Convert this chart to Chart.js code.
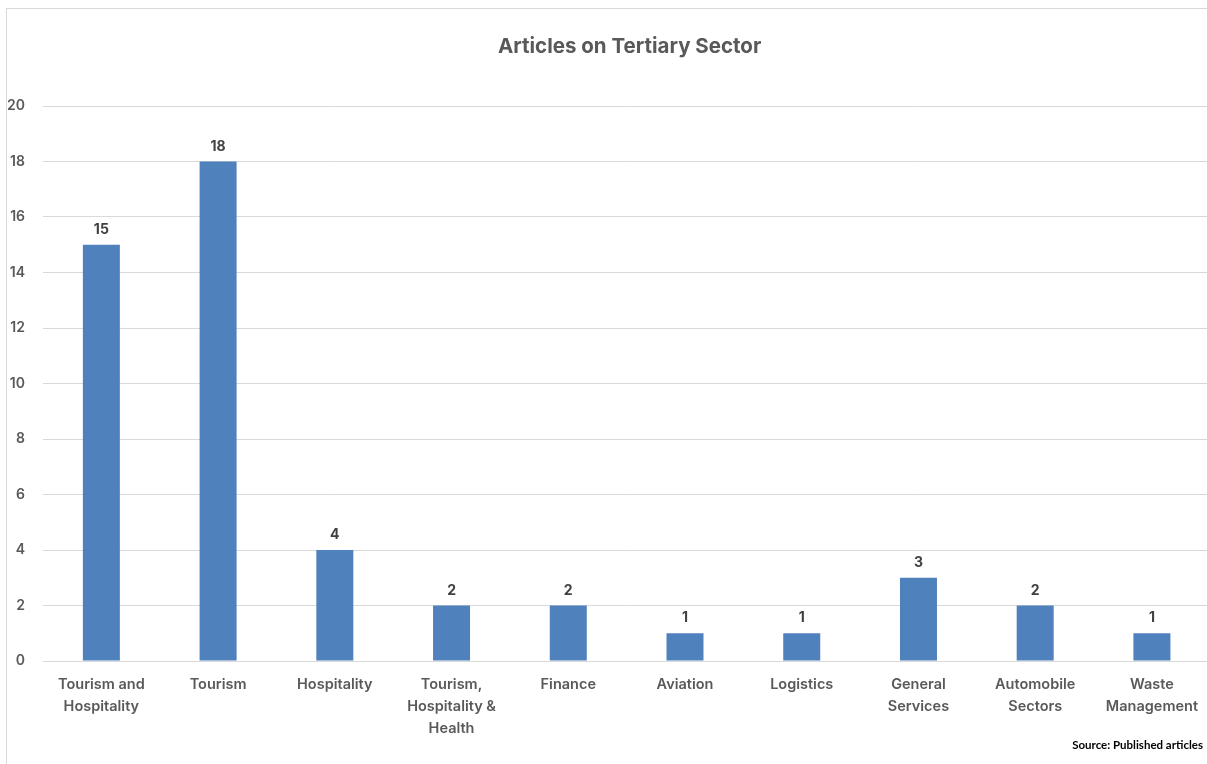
<!DOCTYPE html>
<html>
<head>
<meta charset="utf-8">
<script src="https://cdn.jsdelivr.net/npm/chart.js@4/dist/chart.umd.min.js"></script>
<style>
  html, body { margin: 0; padding: 0; background: #ffffff; overflow: hidden; width: 1207px; height: 764px; }
  #wrap { position: relative; width: 1207px; height: 764px; overflow: hidden; }
  #frame { position: absolute; left: 6px; top: 8px; width: 1300px; height: 800px; border-left: 1px solid #d9d9d9; border-top: 1px solid #d9d9d9; box-sizing: border-box; }
  canvas { position: absolute; left: 0; top: 0; }
  #source { position: absolute; right: 4px; top: 738px; font-family: Lato, "Open Sans", sans-serif; font-weight: bold; font-size: 11.5px; color: #000; }
</style>
</head>
<body>
<div id="wrap">
  <div id="frame"></div>
  <canvas id="c" width="1211" height="764"></canvas>
  <div id="source">Source: Published articles</div>
</div>
<script>
const chartTitle = "Articles on Tertiary Sector";
const categories = [
  ["Tourism and", "Hospitality"],
  "Tourism",
  "Hospitality",
  ["Tourism,", "Hospitality &", "Health"],
  "Finance",
  "Aviation",
  "Logistics",
  ["General", "Services"],
  ["Automobile", "Sectors"],
  ["Waste", "Management"]
];
const articleCounts = [15, 18, 4, 2, 2, 1, 1, 3, 2, 1];
const yTicks = [0, 2, 4, 6, 8, 10, 12, 14, 16, 18, 20];

const FONT = 'Inter, Lato, "Open Sans", sans-serif';

const valueLabels = {
  id: 'valueLabels',
  afterDatasetsDraw(chart) {
    const ctx = chart.ctx;
    const meta = chart.getDatasetMeta(0);
    ctx.save();
    ctx.font = '700 14px ' + FONT;
    ctx.fillStyle = '#404040';
    ctx.textAlign = 'center';
    ctx.textBaseline = 'middle';
    meta.data.forEach((bar, i) => {
      ctx.fillText(String(chart.data.datasets[0].data[i]), bar.x, bar.y - 15);
    });
    ctx.restore();
  }
};

// Title centred over the plot area (as in the reference)
const plotTitle = {
  id: 'plotTitle',
  afterDraw(chart) {
    const ctx = chart.ctx;
    const a = chart.chartArea;
    ctx.save();
    ctx.font = '700 20.5px ' + FONT;
    ctx.fillStyle = '#595959';
    ctx.textAlign = 'center';
    ctx.textBaseline = 'middle';
    ctx.fillText(chartTitle, (a.left + a.right) / 2 + 3, a.top - 59);
    ctx.restore();
  }
};

new Chart(document.getElementById('c'), {
  type: 'bar',
  data: {
    labels: categories,
    datasets: [{
      label: 'Articles',
      data: articleCounts,
      backgroundColor: '#4F81BD',
      borderWidth: 0,
      categoryPercentage: 1.0,
      barPercentage: 0.317
    }]
  },
  options: {
    responsive: false,
    animation: false,
    layout: { padding: { left: 0, right: 0, top: 106, bottom: 0 } },
    plugins: {
      legend: { display: false },
      tooltip: { enabled: false },
      title: { display: false }
    },
    scales: {
      x: {
        grid: { display: false, drawTicks: false },
        border: { display: true, color: '#d9d9d9', width: 1 },
        ticks: {
          color: '#595959',
          font: { family: FONT, size: 14.5, weight: '600', lineHeight: 1.52 },
          padding: 13,
          maxRotation: 0,
          autoSkip: false
        },
        afterFit(scale) { scale.height = 103; }
      },
      y: {
        min: 0,
        max: 20,
        afterBuildTicks(scale) { scale.ticks = yTicks.map(v => ({ value: v })); },
        grid: { color: '#d9d9d9', lineWidth: 1, drawTicks: false },
        border: { display: false },
        ticks: {
          color: '#595959',
          font: { family: FONT, size: 14, weight: '600' },
          padding: 18
        },
        afterFit(scale) { scale.width = 43; }
      }
    }
  },
  plugins: [valueLabels, plotTitle]
});
</script>
</body>
</html>
